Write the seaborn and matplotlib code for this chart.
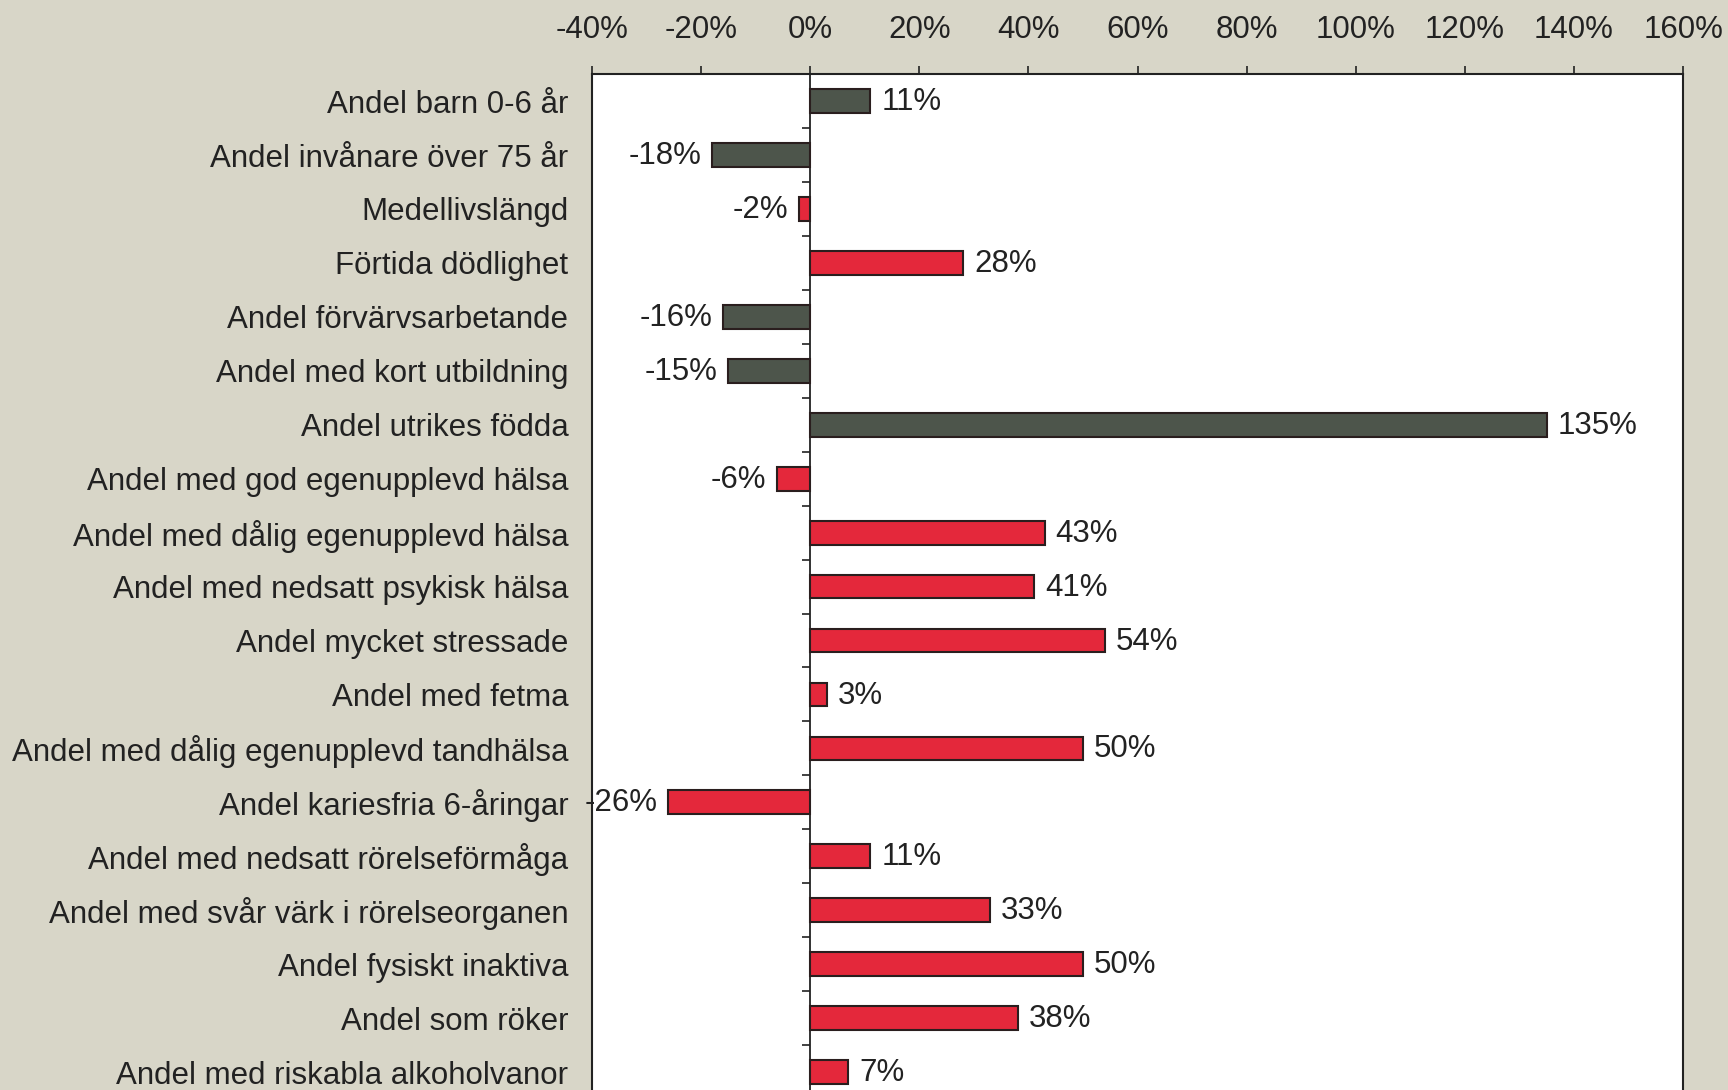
import pandas as pd
import matplotlib
matplotlib.use("Agg")
import matplotlib.pyplot as plt
import seaborn as sns

# Kategorier (uppifrån och ned)
labels = [
    "Andel barn 0-6 år",
    "Andel invånare över 75 år",
    "Medellivslängd",
    "Förtida dödlighet",
    "Andel förvärvsarbetande",
    "Andel med kort utbildning",
    "Andel utrikes födda",
    "Andel med god egenupplevd hälsa",
    "Andel med dålig egenupplevd hälsa",
    "Andel med nedsatt psykisk hälsa",
    "Andel mycket stressade",
    "Andel med fetma",
    "Andel med dålig egenupplevd tandhälsa",
    "Andel kariesfria 6-åringar",
    "Andel med nedsatt rörelseförmåga",
    "Andel med svår värk i rörelseorganen",
    "Andel fysiskt inaktiva",
    "Andel som röker",
    "Andel med riskabla alkoholvanor",
]
# Procentuell skillnad
values = [11, -18, -2, 28, -16, -15, 135, -6, 43, 41, 54, 3, 50, -26, 11, 33, 50, 38, 7]
# Grupp: bakgrund (mörk) eller hälsa (röd)
groups = ["bakgrund", "bakgrund", "hälsa", "hälsa", "bakgrund", "bakgrund", "bakgrund",
          "hälsa", "hälsa", "hälsa", "hälsa", "hälsa", "hälsa", "hälsa", "hälsa",
          "hälsa", "hälsa", "hälsa", "hälsa"]
x_ticks = [-40, -20, 0, 20, 40, 60, 80, 100, 120, 140, 160]

df = pd.DataFrame({"label": labels, "value": values, "grupp": groups})

bg = "#d8d6c8"
palette = {"bakgrund": "#4d554b", "hälsa": "#e4283b"}

sns.set_style("white")
plt.rcParams["font.family"] = ["Liberation Sans", "DejaVu Sans"]

fig = plt.figure(figsize=(17.28, 10.90), dpi=100, facecolor=bg)
ax = fig.add_axes([0.3426, -0.0083, 0.6314, 0.9403])
ax.set_facecolor("white")

sns.barplot(data=df, x="value", y="label", hue="grupp", palette=palette,
            dodge=False, width=0.44, edgecolor="#2a1e1e", linewidth=1.5,
            saturation=1, legend=False, ax=ax)

ax.set_xlim(-40, 160)
ax.set_xticks(x_ticks)
ax.set_xticklabels([f"{t}%" for t in x_ticks])
ax.xaxis.tick_top()
ax.tick_params(axis="x", direction="out", length=6, width=1.2, pad=15,
               labelsize=22.5, colors="#222222")
ax.tick_params(axis="y", length=0, pad=17, labelsize=22.5, colors="#222222")
ax.set_xlabel("")
ax.set_ylabel("")

for side in ["top", "left", "right"]:
    ax.spines[side].set_visible(True)
    ax.spines[side].set_color("#222222")
    ax.spines[side].set_linewidth(1.5)
ax.spines["bottom"].set_visible(False)

# Nollinje med små markeringar mellan kategorierna
zero_frac = (0 - (-40)) / (160 - (-40))
sec = ax.secondary_yaxis(zero_frac)
sec.set_yticks([i + 0.5 for i in range(len(labels) - 1)])
sec.set_yticklabels([])
sec.tick_params(direction="out", length=6, width=1.2, colors="#222222")
sec.spines["left"].set_color("#222222")
sec.spines["left"].set_linewidth(1.3)

# Värdeetiketter
for i, v in enumerate(values):
    off = 2.0
    ax.text(v + off if v >= 0 else v - off, i + 0.02, f"{v}%",
            ha="left" if v >= 0 else "right", va="center",
            fontsize=22.5, color="#222222")

fig.savefig("out.png", dpi=100, facecolor=bg)
